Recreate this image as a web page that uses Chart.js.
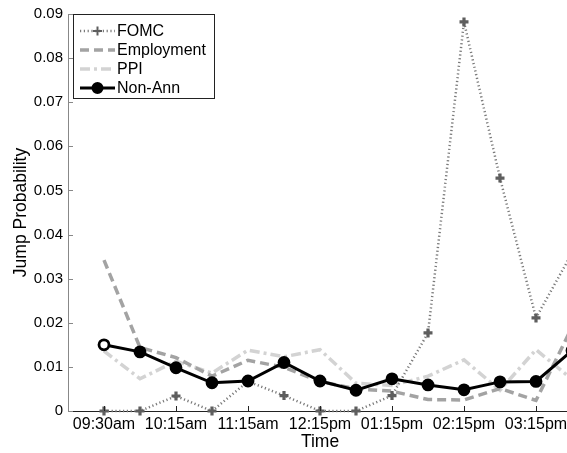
<!DOCTYPE html>
<html>
<head>
<meta charset="utf-8">
<script src="https://cdn.jsdelivr.net/npm/chart.js@4/dist/chart.umd.min.js"></script>
<style>
  html, body { margin: 0; padding: 0; background: #fff; overflow: hidden; }
  #wrap { width: 580px; height: 453px; }
</style>
</head>
<body>
<div id="wrap"><canvas id="jump-chart" width="580" height="453"></canvas></div>
<script>
// half-hour buckets, labelled every hour
var times = ["09:30am", "09:45am", "10:15am", "10:45am", "11:15am", "11:45am", "12:15pm",
             "12:45pm", "01:15pm", "01:45pm", "02:15pm", "02:45pm", "03:15pm", "03:45pm"];
var tickIdx = [0, 2, 4, 6, 8, 10, 12];
var yTicks = [0, 0.01, 0.02, 0.03, 0.04, 0.05, 0.06, 0.07, 0.08, 0.09];

var fomc       = [0, 0, 0.0034, 0, 0.0067, 0.0035, 0, 0, 0.0035, 0.0177, 0.0882, 0.0528, 0.0211, 0.0358];
var employment = [0.0342, 0.0144, 0.0121, 0.0079, 0.0115, 0.0099, 0.0067, 0.0050, 0.0045, 0.0026, 0.0025, 0.0051, 0.0024, 0.0190];
var ppi        = [0.0136, 0.0073, 0.0113, 0.0086, 0.0138, 0.0123, 0.0139, 0.0063, 0.0058, 0.0079, 0.0116, 0.0047, 0.0139, 0.0072];
var nonAnn     = [0.0150, 0.0134, 0.0098, 0.0064, 0.0068, 0.0110, 0.0068, 0.0047, 0.0073, 0.0059, 0.0048, 0.0066, 0.0067, 0.0137];

function pts(arr) {
  return arr.map(function (v, i) { return { x: i, y: v }; });
}

var FONT = "'Liberation Sans', Arial, Helvetica, sans-serif";

function drawMarker(ctx, style, x, y, r, color, fill, bw) {
  ctx.save();
  ctx.setLineDash([]);
  if (style === 'cross') {
    ctx.strokeStyle = color;
    ctx.lineWidth = bw;
    ctx.beginPath();
    ctx.moveTo(x - r, y); ctx.lineTo(x + r, y);
    ctx.moveTo(x, y - r); ctx.lineTo(x, y + r);
    ctx.stroke();
  } else if (style === 'circle') {
    ctx.fillStyle = fill;
    ctx.strokeStyle = color;
    ctx.lineWidth = bw;
    ctx.beginPath();
    ctx.arc(x, y, r, 0, Math.PI * 2);
    ctx.fill();
    ctx.stroke();
  }
  ctx.restore();
}

// matlab style ticks pointing inside the axes
var inwardTicks = {
  id: 'inwardTicks',
  afterDatasetsDraw: function (chart) {
    var ctx = chart.ctx, xs = chart.scales.x, ys = chart.scales.y;
    ctx.save();
    ctx.lineWidth = 1;
    ctx.strokeStyle = '#888';
    ys.ticks.forEach(function (t) {
      var py = Math.round(ys.getPixelForValue(t.value)) + 0.5;
      ctx.beginPath(); ctx.moveTo(ys.right, py); ctx.lineTo(ys.right + 5, py); ctx.stroke();
    });
    ctx.strokeStyle = '#222';
    xs.ticks.forEach(function (t) {
      var px = Math.round(xs.getPixelForValue(t.value)) + 0.5;
      ctx.beginPath(); ctx.moveTo(px, xs.top); ctx.lineTo(px, xs.top - 5); ctx.stroke();
    });
    ctx.restore();
  }
};

var boxLegend = {
  id: 'boxLegend',
  afterDraw: function (chart) {
    var ctx = chart.ctx;
    var x0 = chart.chartArea.left + 5, y0 = chart.chartArea.top, w = 141, h = 84;
    ctx.save();
    ctx.fillStyle = '#fff';
    ctx.fillRect(x0, y0, w, h);
    ctx.strokeStyle = '#222';
    ctx.lineWidth = 1;
    ctx.strokeRect(x0 + 0.5, y0 + 0.5, w, h);
    chart.data.datasets.forEach(function (ds, i) {
      var y = y0 + 17 + i * 19;
      ctx.strokeStyle = ds.borderColor;
      ctx.lineWidth = ds.borderWidth;
      ctx.setLineDash(ds.borderDash || []);
      ctx.beginPath();
      ctx.moveTo(x0 + 7, y);
      ctx.lineTo(x0 + 42, y);
      ctx.stroke();
      ctx.setLineDash([]);
      if (ds.pointRadius > 0) {
        drawMarker(ctx, ds.pointStyle, x0 + 24.5, y, ds.pointRadius, ds.pointBorderColor,
                   ds.legendFill || ds.pointBorderColor, 2);
      }
      ctx.fillStyle = '#000';
      ctx.font = '16px ' + FONT;
      ctx.textBaseline = 'middle';
      ctx.fillText(ds.label, x0 + 44, y + 1);
    });
    ctx.restore();
  }
};

var nonAnnFill = nonAnn.map(function (v, i) { return i === 0 ? '#fff' : '#000'; });

new Chart(document.getElementById("jump-chart"), {
  type: 'line',
  data: {
    datasets: [{
      label: "FOMC",
      data: pts(fomc),
      borderColor: '#7a7a7a',
      borderWidth: 2.5,
      borderDash: [1.2, 2.6],
      pointStyle: 'cross',
      pointRadius: 4.5,
      pointBorderWidth: 3.2,
      pointBorderColor: '#5e5e5e',
      pointBackgroundColor: '#5e5e5e',
      order: 1
    }, {
      label: "Employment",
      data: pts(employment),
      borderColor: '#a3a3a3',
      borderWidth: 3.5,
      borderDash: [9, 5],
      pointRadius: 0,
      order: 2
    }, {
      label: "PPI",
      data: pts(ppi),
      borderColor: '#d3d3d3',
      borderWidth: 3.5,
      borderDash: [10, 4, 3, 4],
      pointRadius: 0,
      order: 3
    }, {
      label: "Non-Ann",
      data: pts(nonAnn),
      borderColor: '#000',
      borderWidth: 3,
      pointStyle: 'circle',
      pointRadius: 5,
      pointBorderWidth: 2.8,
      pointBorderColor: '#000',
      pointBackgroundColor: nonAnnFill,
      legendFill: '#000',
      order: 0
    }]
  },
  options: {
    responsive: false,
    animation: false,
    devicePixelRatio: 1,
    layout: { padding: { top: 14, right: 8, left: 0, bottom: 0 } },
    elements: { line: { tension: 0, fill: false } },
    datasets: { line: { clip: false } },
    plugins: {
      legend: { display: false },
      tooltip: { enabled: false },
      title: { display: false }
    },
    scales: {
      x: {
        type: 'linear',
        min: -1,
        max: 13,
        afterFit: function (s) { s.height = 42; },
        afterBuildTicks: function (s) {
          s.ticks = tickIdx.map(function (v) { return { value: v }; });
        },
        ticks: {
          autoSkip: false,
          maxRotation: 0,
          padding: 4,
          color: '#000',
          font: { family: FONT, size: 16 },
          callback: function (v) { return times[v]; }
        },
        grid: { display: false, drawTicks: false },
        border: { display: true, color: '#222', width: 1 },
        title: {
          display: true,
          text: 'Time',
          color: '#000',
          font: { family: FONT, size: 17.5 },
          padding: { top: 0, bottom: 0 }
        }
      },
      y: {
        min: 0,
        max: 0.09,
        afterFit: function (s) { s.width = 68; },
        afterBuildTicks: function (s) {
          s.ticks = yTicks.map(function (v) { return { value: v }; });
        },
        ticks: {
          padding: 5,
          color: '#000',
          font: { family: FONT, size: 15 },
          callback: function (v) { return v === 0 ? '0' : v.toFixed(2); }
        },
        grid: { display: false, drawTicks: false },
        border: { display: true, color: '#888', width: 1 },
        title: {
          display: true,
          text: 'Jump Probability',
          color: '#000',
          font: { family: FONT, size: 17.5 },
          padding: { top: 11, bottom: 0 }
        }
      }
    }
  },
  plugins: [inwardTicks, boxLegend]
});
</script>
</body>
</html>
